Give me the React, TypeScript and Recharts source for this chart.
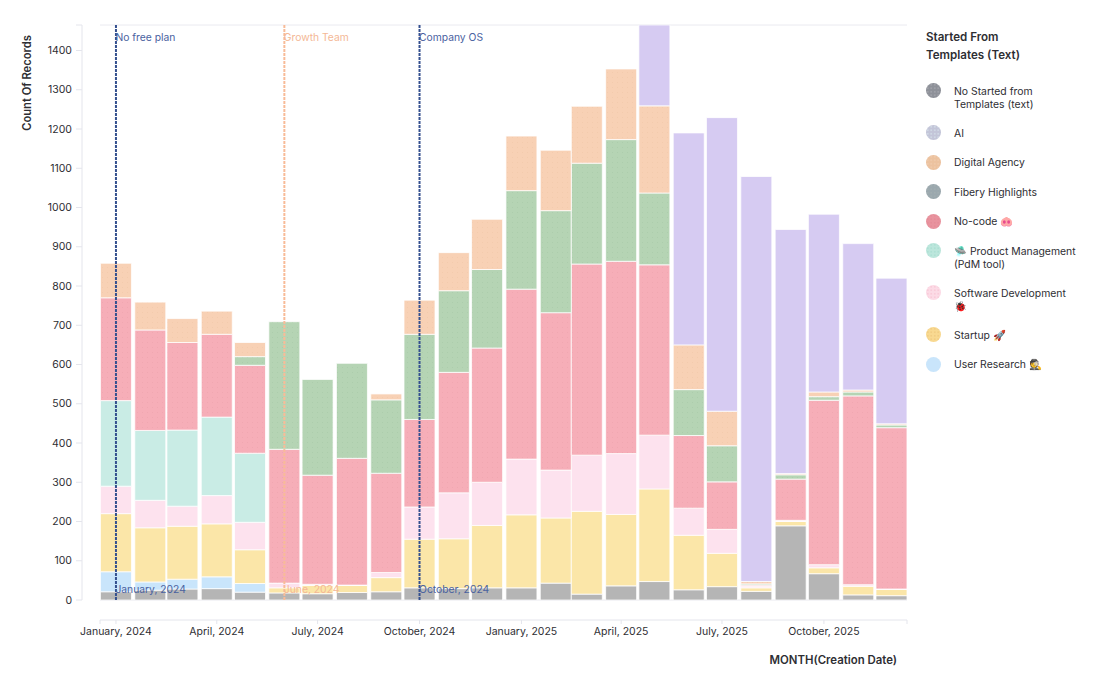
import React from "react";
import { BarChart, Bar, XAxis, YAxis, CartesianGrid, ReferenceLine } from "recharts";

const monthNames = ["January","February","March","April","May","June","July","August","September","October","November","December"];
const monthIndex = [[2024,0],[2024,1],[2024,2],[2024,3],[2024,4],[2024,5],[2024,6],[2024,7],[2024,8],[2024,9],[2024,10],[2024,11],[2025,0],[2025,1],[2025,2],[2025,3],[2025,4],[2025,5],[2025,6],[2025,7],[2025,8],[2025,9],[2025,10],[2025,11]];
const DAY = 86400000;
const noTemplate = [21,25,28,29,20,18,16,19,21,31,29,31,31,43,15,36,47,26,34,22,189,67,13,11];
const userResearch = [51,21,25,30,22,0,0,0,0,0,0,0,0,0,0,0,0,0,0,0,0,0,0,0];
const startup = [148,138,135,135,86,13,21,18,36,124,127,159,186,166,211,182,236,139,85,9,11,15,22,16];
const softwareDev = [70,70,51,72,70,12,3,1,13,82,117,110,142,122,143,155,137,69,61,4,3,8,4,1];
const productMgmt = [218,178,194,200,176,0,0,0,0,0,0,0,0,0,0,0,0,0,0,0,0,0,0,0];
const noCode = [262,256,223,211,224,341,278,323,253,223,307,342,433,401,487,490,434,185,121,3,105,419,481,411];
const fibery = [0,0,0,0,22,325,244,242,187,217,208,200,251,260,257,310,183,117,92,3,11,9,10,7];
const agency = [88,71,61,59,36,0,0,0,15,87,97,128,139,154,145,180,222,114,88,6,3,12,5,3];
const ai = [0,0,0,0,0,0,0,0,0,0,0,0,0,0,0,0,301,540,748,1032,622,453,373,371];

const legendItems = [
  { key: "none", label: "No Started from Templates (text)", dot: "#8e9199", speck: "#9fa1a8" },
  { key: "ai", label: "AI", dot: "#c3c5d8", speck: "#cfd8e4" },
  { key: "agency", label: "Digital Agency", dot: "#ecc29f", speck: "#efc9aa" },
  { key: "fibery", label: "Fibery Highlights", dot: "#9ba8ae", speck: "#a1adb0" },
  { key: "nocode", label: "No-code 🐽", dot: "#e8939e", speck: "#e58c98" },
  { key: "pdm", label: "🛸 Product Management (PdM tool)", dot: "#bce6dc", speck: "#aee0d4" },
  { key: "soft", label: "Software Development 🐞", dot: "#fcdbe6", speck: "#f9cbd9" },
  { key: "startup", label: "Startup 🚀", dot: "#f8d991", speck: "#f1cd83" },
  { key: "research", label: "User Research 🕵️", dot: "#c9e5fb", speck: "#c9e5fb" },
];
const stackOrder = [
  ["none", noTemplate, "#b5b5b5", null], ["research", userResearch, "#c9e5fb", null], ["startup", startup, "#fbe6a8", null],
  ["soft", softwareDev, "#fde2ee", null], ["pdm", productMgmt, "#c9ece5", null], ["nocode", noCode, "#f6aeb8", "#f0a7b1"],
  ["fibery", fibery, "#b5d4b4", "#accdac"], ["agency", agency, "#f8d1b5", "#f3cbad"], ["ai", ai, "#d6cbf2", null],
] as const;

const data = monthIndex.map(([y, m], i) => {
  const row: Record<string, number> = { t: Date.UTC(y, m, 1) };
  stackOrder.forEach(([k, v]) => { row[k] = v[i]; });
  return row;
});

const xMin = Date.UTC(2024, 0, 1) - 14.4 * DAY;
const xMax = Date.UTC(2024, 0, 1) + 714 * DAY;
const xTicks = [xMin, Date.UTC(2024,0,1), Date.UTC(2024,3,1), Date.UTC(2024,6,1), Date.UTC(2024,9,1), Date.UTC(2025,0,1), Date.UTC(2025,3,1), Date.UTC(2025,6,1), Date.UTC(2025,9,1), xMax];
const yMax = 1465;
const yTicks = [0,100,200,300,400,500,600,700,800,900,1000,1100,1200,1300,1400];
const yTicksOuter = [...yTicks, yMax];
const annotations = [
  { t: Date.UTC(2024,0,1), top: "No free plan", bottom: "January, 2024", color: "#34508f", text: "#4a629f" },
  { t: Date.UTC(2024,5,1), top: "Growth Team", bottom: "June, 2024", color: "#f8bb98", text: "#f4b896" },
  { t: Date.UTC(2024,9,1), top: "Company OS", bottom: "October, 2024", color: "#34508f", text: "#4a629f" },
];
const FONT = "Inter, 'Noto Sans', sans-serif";
const fmtX = (v: number) => {
  if (v === xMin || v === xMax) return "";
  const d = new Date(v);
  return `${monthNames[d.getUTCMonth()]}, ${d.getUTCFullYear()}`;
};

export default function App() {
  return (
    <div style={{ position: "absolute", left: 0, top: 0, width: 1100, height: 689, fontFamily: FONT }}>
      <BarChart width={1100} height={689} data={data} margin={{ top: 25, right: 193, bottom: 0, left: 0 }} barSize={31}>
        <defs>
          {stackOrder.filter((s) => s[3]).map(([k, , fill, speck]) => (
            <pattern key={k} id={`dots-${k}`} width={5} height={5} patternUnits="userSpaceOnUse">
              <rect width={5} height={5} fill={fill} />
              <rect x={2} y={2} width={1} height={1} fill={speck as string} />
            </pattern>
          ))}
        </defs>
        <CartesianGrid yAxisId="main" xAxisId="main" vertical={false} stroke="#eaeaf0" strokeWidth={1} />
        <XAxis xAxisId="main" dataKey="t" type="number" scale="linear" domain={[xMin, xMax]} allowDataOverflow height={20} axisLine={false} tickLine={false} tick={false} ticks={[]} />
        <XAxis xAxisId="outer" dataKey="t" type="number" scale="linear" domain={[xMin, xMax]} allowDataOverflow height={69}
          ticks={xTicks} interval={0} tickFormatter={fmtX} tickSize={4} tickMargin={4}
          axisLine={{ stroke: "#e4e5ec" }} tickLine={{ stroke: "#e4e5ec" }}
          tick={{ fontSize: 10.5, fill: "#2e2e33", fontFamily: FONT }}
          label={{ content: () => (
            <text x={897} y={664} textAnchor="end" fontSize={11.4} fontWeight={600} fill="#2e2e33" fontFamily={FONT}>MONTH(Creation Date)</text>
          ) }} />
        <YAxis yAxisId="main" type="number" domain={[0, yMax]} allowDataOverflow width={18} ticks={yTicks} axisLine={false} tickLine={false} tick={false} />
        <YAxis yAxisId="outer" type="number" domain={[0, yMax]} allowDataOverflow width={82} ticks={yTicksOuter} interval={0}
          tickFormatter={(v: number) => (v === yMax ? "" : String(v))} tickSize={6} tickMargin={4}
          axisLine={{ stroke: "#e4e5ec" }} tickLine={{ stroke: "#e4e5ec" }}
          tick={{ fontSize: 10.5, fill: "#2e2e33", fontFamily: FONT }}
          label={{ content: () => (
            <text transform="rotate(-90 27 83)" x={27} y={83} dy={4} textAnchor="middle" fontSize={11.2} fontWeight={600} fill="#2e2e33" fontFamily={FONT}>Count Of Records</text>
          ) }} />
        {stackOrder.map(([k, , fill, speck]) => (
          <Bar key={k} xAxisId="main" yAxisId="main" dataKey={k} stackId="s" fill={speck ? `url(#dots-${k})` : fill} stroke="#ffffff" strokeOpacity={0.75} strokeWidth={1} isAnimationActive={false} />
        ))}
        {annotations.map((a) => (
          <ReferenceLine key={a.top} xAxisId="main" yAxisId="main" x={a.t} stroke={a.color} strokeWidth={2} strokeDasharray="3 1"
            label={{ content: (p: any) => (
              <g fontSize={10.3} fill={a.text} fontFamily={FONT}>
                <text x={p.viewBox.x - 0.5} y={p.viewBox.y + 16}>{a.top}</text>
                <text x={p.viewBox.x - 0.5} y={p.viewBox.y + p.viewBox.height - 7}>{a.bottom}</text>
              </g>
            ) }} />
        ))}
      </BarChart>
      <div style={{ position: "absolute", left: 926, top: 28, width: 160, color: "#2e2e33" }}>
        <div style={{ fontSize: 11.6, fontWeight: 600, lineHeight: "18px", marginBottom: 19 }}>Started From<br />Templates (Text)</div>
        {legendItems.map((s) => (
          <div key={s.key} style={{ display: "flex", alignItems: "flex-start", marginBottom: 14.5, fontSize: 10.4, lineHeight: "13px" }}>
            <span style={{ width: 15, height: 15, borderRadius: "50%", flex: "none", marginRight: 13, backgroundColor: s.dot, backgroundImage: `radial-gradient(${s.speck} 0.8px, transparent 0.9px)`, backgroundSize: "3.5px 3.5px" }} />
            <span style={{ width: 126, paddingTop: 1.5 }}>{s.label}</span>
          </div>
        ))}
      </div>
    </div>
  );
}
